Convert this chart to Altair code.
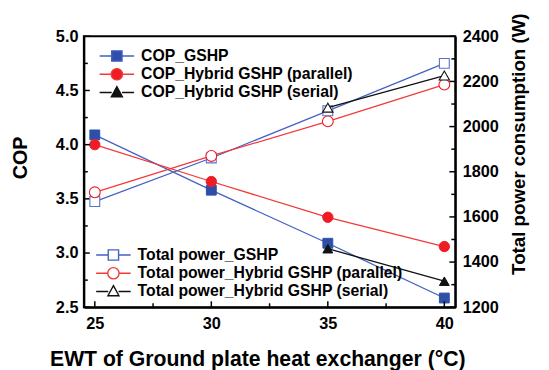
import altair as alt
import pandas as pd

# ---------------- data ----------------
ewt = [25, 30, 35, 40]
ewt_serial = [35, 40]
cop_gshp = [4.09, 3.58, 3.09, 2.585]
cop_parallel = [4.00, 3.66, 3.33, 3.06]
cop_serial = [3.04, 2.74]
power_gshp = [1668, 1861, 2070, 2280]
power_parallel = [1709, 1870, 2023, 2186]
power_serial = [2084, 2226]

cop_labels = ["COP_GSHP", "COP_Hybrid GSHP (parallel)", "COP_Hybrid GSHP (serial)"]
power_labels = ["Total power_GSHP", "Total power_Hybrid GSHP (parallel)",
                "Total power_Hybrid GSHP (serial)"]

x_ticks_major = [25, 30, 35, 40]
x_ticks_minor = [27.5, 32.5, 37.5]
cop_ticks_major = [2.5, 3.0, 3.5, 4.0, 4.5, 5.0]
cop_ticks_minor = [2.75, 3.25, 3.75, 4.25, 4.75]
power_ticks_major = [1200, 1400, 1600, 1800, 2000, 2200, 2400]
power_ticks_minor = [1300, 1500, 1700, 1900, 2100, 2300]

# ---------------- style ----------------
W, H = 377, 275
FONT = "Liberation Sans"
BLUE_M, BLUE_L, BLUE_O = "#2d4fa8", "#4462c4", "#5a72cc"
RED_M, RED_L = "#ee1c24", "#f23a3a"
BLACK = "#111111"

xscale = alt.Scale(domain=[24.53, 40.47], nice=False, zero=False)
copscale = alt.Scale(domain=[2.5, 5.0], nice=False, zero=False)
powscale = alt.Scale(domain=[1200, 2400], nice=False, zero=False)

xaxis = alt.Axis(values=x_ticks_major, format="d", ticks=False, grid=False,
                 domainColor="black", domainWidth=2, labelFont=FONT, labelFontSize=16.5,
                 labelFontWeight="bold", labelColor="black", labelPadding=9,
                 title="EWT of Ground plate heat exchanger (°C)", titleFont=FONT,
                 titleFontSize=21.5, titleFontWeight="bold", titleColor="black",
                 titleX=176, titleY=42, titleAlign="center", titleBaseline="top")
copaxis = alt.Axis(values=cop_ticks_major, format=".1f", ticks=False, grid=False,
                   domainColor="black", domainWidth=2, labelFont=FONT, labelFontSize=16.5,
                   labelFontWeight="bold", labelColor="black", labelPadding=6,
                   title="COP", titleFont=FONT, titleFontSize=20, titleFontWeight="bold",
                   titleColor="black", titleAngle=270, titleX=-64, titleY=123,
                   titleAlign="center", titleBaseline="middle")
powaxis = alt.Axis(orient="right", values=power_ticks_major, format="d", ticks=False,
                   grid=False, domainColor="black", domainWidth=2, labelFont=FONT,
                   labelFontSize=16.5, labelFontWeight="bold", labelColor="black",
                   labelPadding=7, title="Total power consumption (W)", titleFont=FONT,
                   titleFontSize=19, titleFontWeight="bold", titleColor="black",
                   titleAngle=270, titleX=64, titleY=109, titleAlign="center",
                   titleBaseline="middle")


def series(xs, ys, field, yscale, yaxis, line_color, shape, fill, stroke, size, sw):
    df = pd.DataFrame({"ewt": xs, field: ys})
    base = alt.Chart(df).encode(
        x=alt.X("ewt:Q", scale=xscale, axis=xaxis),
        y=alt.Y(f"{field}:Q", scale=yscale, axis=yaxis),
    )
    line = base.mark_line(color=line_color, strokeWidth=1.3)
    pts = base.mark_point(shape=shape, filled=True, fill=fill, stroke=stroke,
                          strokeWidth=sw, size=size, opacity=1)
    return [line, pts]


# legend glyphs: line stub + marker (unit = sqrt(symbolSize)/2 = 7 px)
SQ = "M-2.5,0H-0.75M0.75,0H2.5M-0.75,-0.75H0.75V0.75H-0.75Z"
CI = "M-2.5,0H-0.82M0.82,0H2.5M-0.82,0A0.82,0.82,0,1,1,0.82,0A0.82,0.82,0,1,1,-0.82,0Z"
TR = "M-2.5,0H-0.75M0.75,0H2.5M0,-0.85L0.8,0.62L-0.8,0.62Z"


def legend_layer(labels, fills, strokes, lx, ly):
    leg = alt.Legend(orient="none", legendX=lx, legendY=ly, title=None, labelFont=FONT,
                     labelFontSize=16, labelFontWeight="bold", labelColor="black",
                     labelLimit=0, symbolSize=196, symbolStrokeWidth=1.4, symbolOpacity=1,
                     rowPadding=0.5, labelOffset=16.5, padding=0)
    df = pd.DataFrame({"label": labels, "ewt": [30] * len(labels)})
    return alt.Chart(df).mark_point(filled=True, opacity=0).encode(
        x=alt.X("ewt:Q", scale=xscale, axis=xaxis),
        fill=alt.Fill("label:N", scale=alt.Scale(domain=labels, range=fills), legend=leg),
        stroke=alt.Stroke("label:N", scale=alt.Scale(domain=labels, range=strokes), legend=leg),
        shape=alt.Shape("label:N", scale=alt.Scale(domain=labels, range=[SQ, CI, TR]), legend=leg),
    )


def x_ticks(vals, length):
    return alt.Chart(pd.DataFrame({"ewt": vals})).mark_rule(color="black", strokeWidth=1.5).encode(
        x=alt.X("ewt:Q", scale=xscale, axis=xaxis), y=alt.value(H), y2=alt.value(H - length))


def y_ticks(vals, field, yscale, yaxis, x0, x1):
    return alt.Chart(pd.DataFrame({field: vals})).mark_rule(color="black", strokeWidth=1.5).encode(
        y=alt.Y(f"{field}:Q", scale=yscale, axis=yaxis), x=alt.value(x0), x2=alt.value(x1))


cop_layers = []
cop_layers += series(ewt, cop_gshp, "cop", copscale, copaxis, BLUE_L, "square", BLUE_M, BLUE_M, 100, 1)
cop_layers += series(ewt, cop_parallel, "cop", copscale, copaxis, RED_L, "circle", RED_M, RED_M, 110, 1)
cop_layers += series(ewt_serial, cop_serial, "cop", copscale, copaxis, BLACK, "triangle-up", BLACK, BLACK, 100, 1)
cop_layers += [x_ticks(x_ticks_major, 6), x_ticks(x_ticks_minor, 4),
               y_ticks(cop_ticks_major, "cop", copscale, copaxis, 0, 6),
               y_ticks(cop_ticks_minor, "cop", copscale, copaxis, 0, 4),
               legend_layer(cop_labels, [BLUE_M, RED_M, BLACK], [BLUE_L, RED_L, BLACK], 25.5, 12)]

pow_layers = []
pow_layers += series(ewt, power_gshp, "power", powscale, powaxis, BLUE_L, "square", "white", BLUE_O, 100, 1.1)
pow_layers += series(ewt, power_parallel, "power", powscale, powaxis, RED_L, "circle", "white", RED_M, 120, 1.1)
pow_layers += series(ewt_serial, power_serial, "power", powscale, powaxis, BLACK, "triangle-up", "white", BLACK, 110, 1.1)
pow_layers += [y_ticks(power_ticks_major, "power", powscale, powaxis, W, W - 6),
               y_ticks(power_ticks_minor, "power", powscale, powaxis, W, W - 4),
               legend_layer(power_labels, ["white", "white", "white"], [BLUE_L, RED_L, BLACK], 22, 214)]

cop_group = alt.layer(*cop_layers)
pow_group = alt.layer(*pow_layers)

chart = alt.layer(cop_group, pow_group).resolve_scale(
    y="independent", fill="independent", stroke="independent", shape="independent"
).resolve_legend(
    fill="independent", stroke="independent", shape="independent"
).properties(
    width=W, height=H, autosize=alt.AutoSizeParams(type="none"),
    padding={"left": 77, "top": 26, "right": 87, "bottom": 61},
    background="white",
).configure_view(stroke="black", strokeWidth=2)

chart.save("out.html", embed_options={"renderer": "svg", "actions": False})
